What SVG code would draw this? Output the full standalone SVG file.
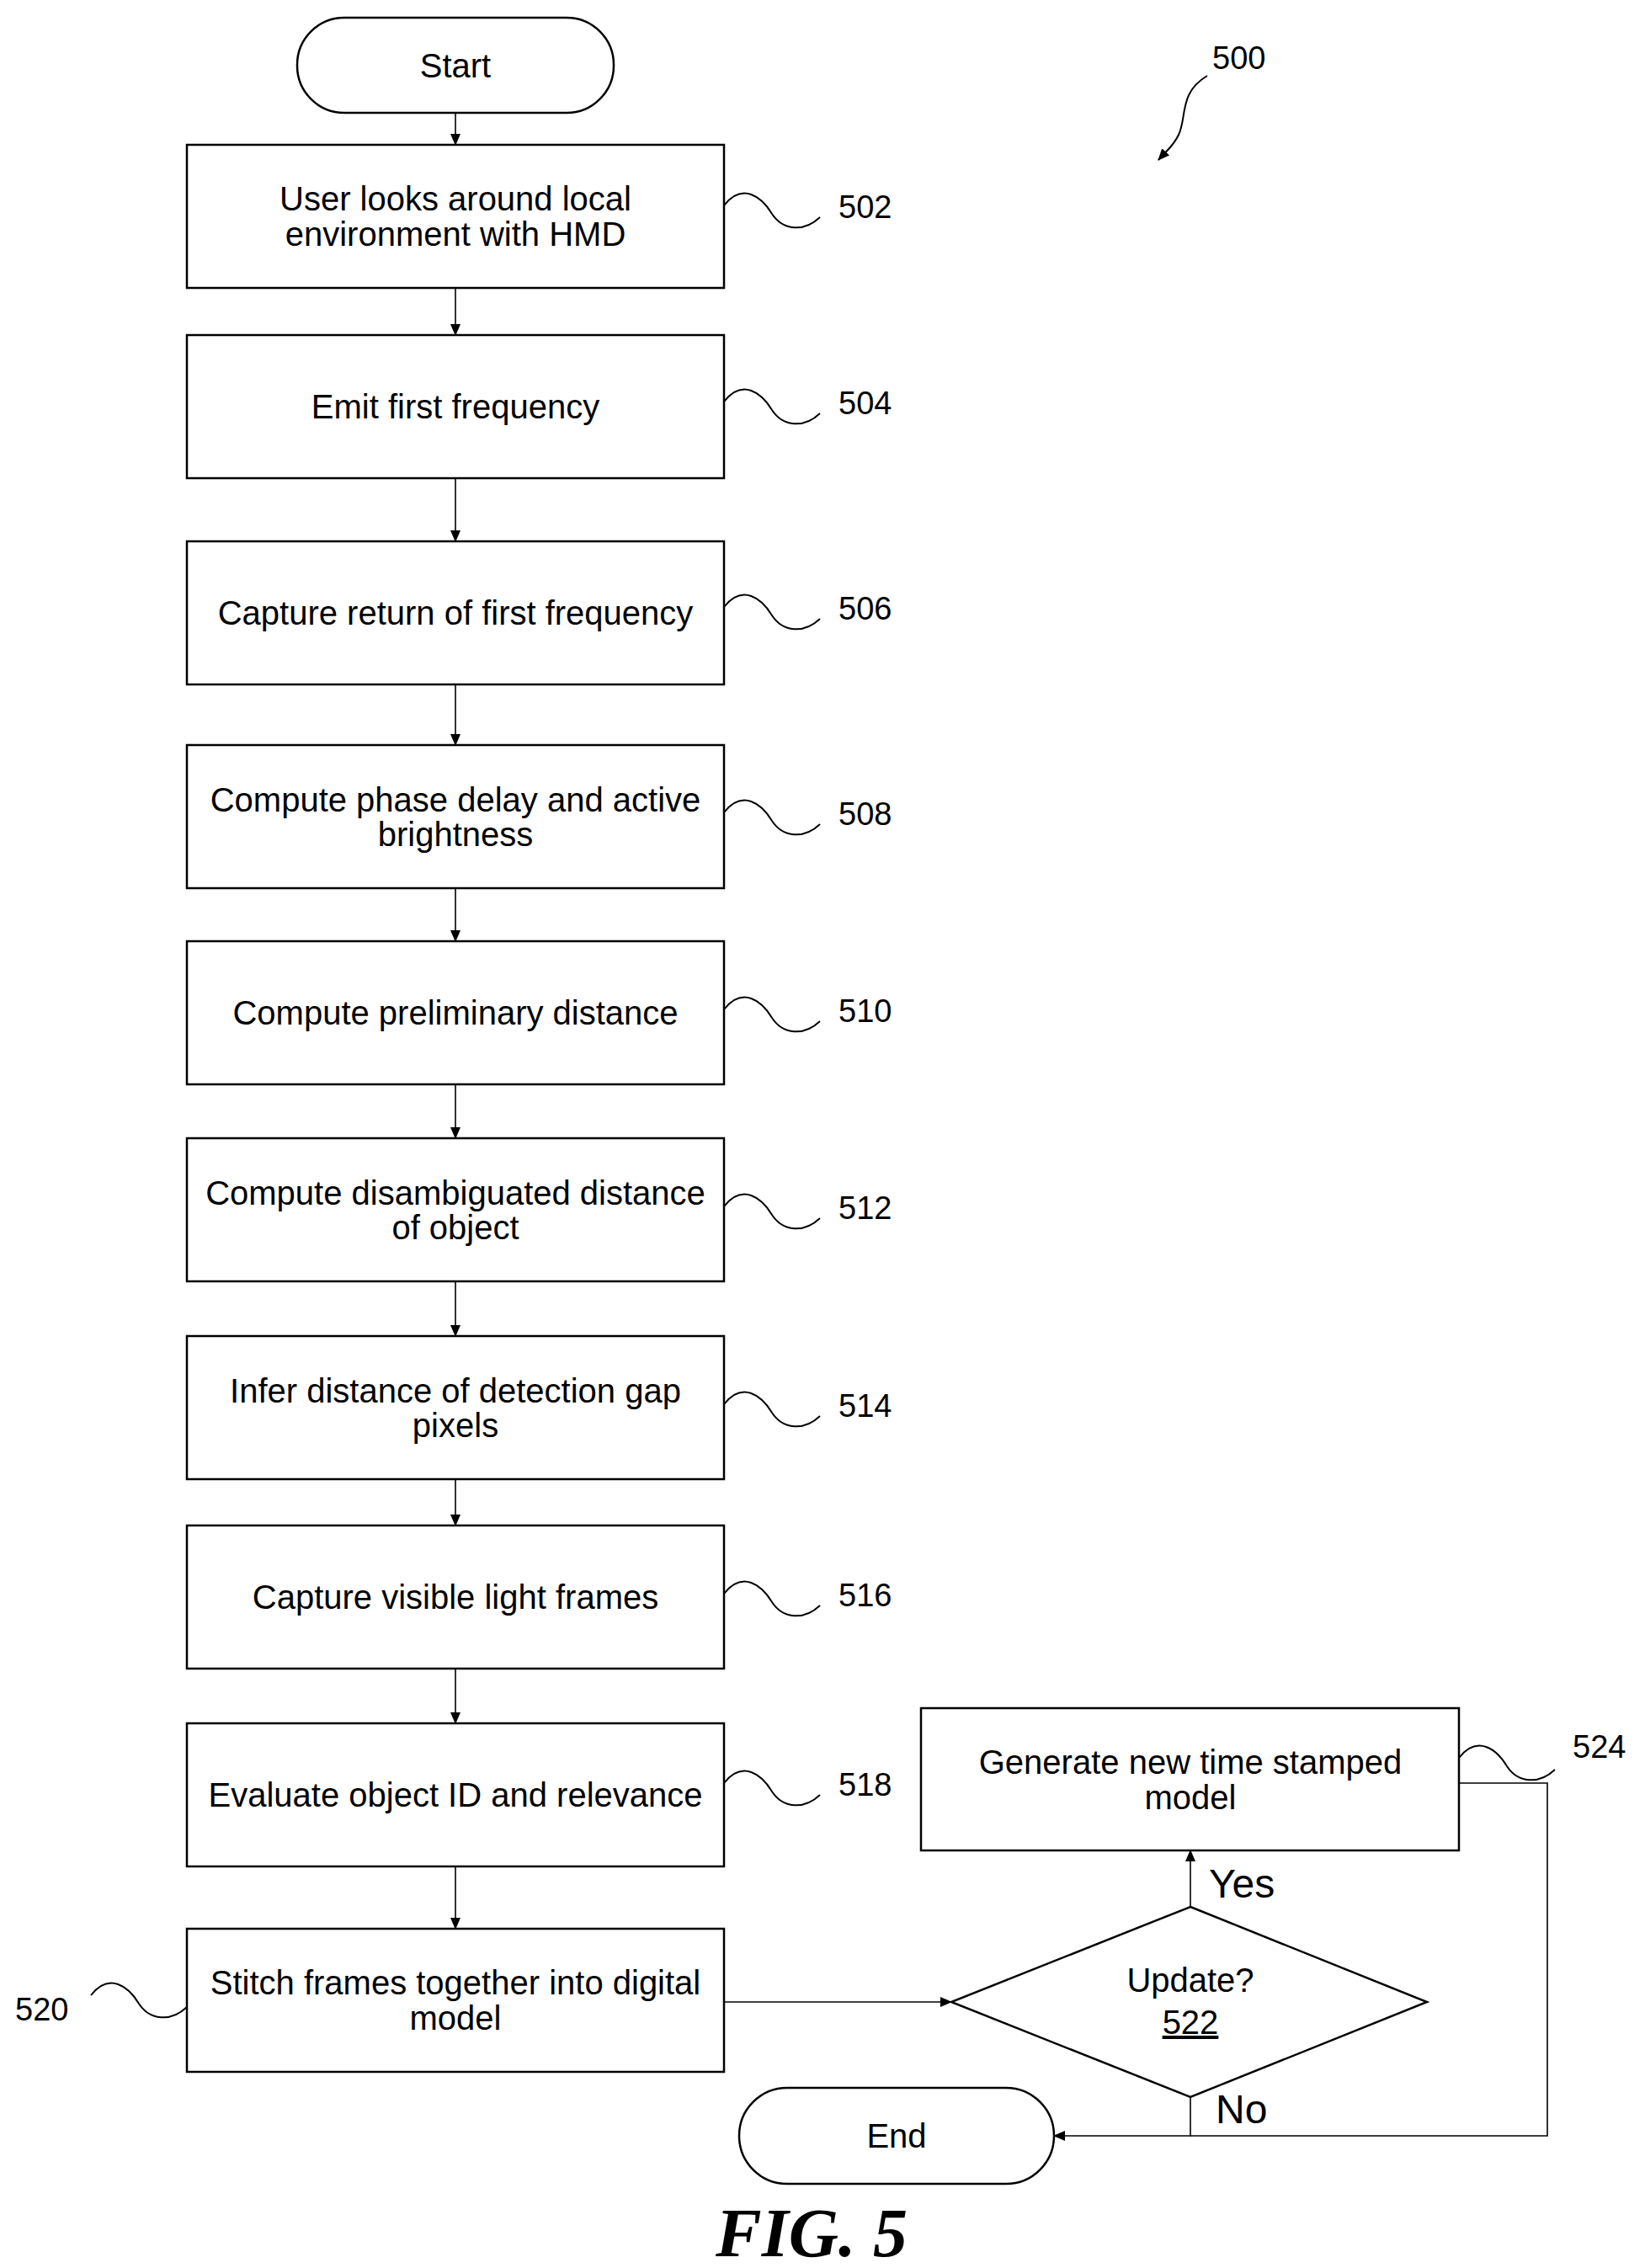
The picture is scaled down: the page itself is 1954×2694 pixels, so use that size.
<svg xmlns="http://www.w3.org/2000/svg" width="1954" height="2694" viewBox="0 0 1954 2694">
<style>
.b{fill:#fff;stroke:#000;stroke-width:2.5}
.t{font-family:"Liberation Sans",Arial,sans-serif;font-size:40px;text-anchor:middle;fill:#000}
.n{font-family:"Liberation Sans",Arial,sans-serif;font-size:38px;fill:#000}
.y{font-family:"Liberation Sans",Arial,sans-serif;font-size:48px;fill:#000}
.c{fill:none;stroke:#000;stroke-width:1.6}
.s{fill:none;stroke:#000;stroke-width:2}
</style>
<defs>
<marker id="a" markerWidth="14" markerHeight="14" refX="13" refY="7" orient="auto" markerUnits="userSpaceOnUse" viewBox="0 0 14 14">
<path d="M0,1 L14,7 L0,13 z" fill="#000"/>
</marker>
<path id="sq" d="M0,0 C22,-28 45,-10 57,10 C70,30 95,32 114,14"/>
</defs>
<rect width="1954" height="2694" fill="#fff"/>
<g id="connectors">
<path class="c" marker-end="url(#a)" d="M541,134 V172"/>
<path class="c" marker-end="url(#a)" d="M541,342 V398"/>
<path class="c" marker-end="url(#a)" d="M541,568 V643"/>
<path class="c" marker-end="url(#a)" d="M541,813 V885"/>
<path class="c" marker-end="url(#a)" d="M541,1055 V1118"/>
<path class="c" marker-end="url(#a)" d="M541,1288 V1352"/>
<path class="c" marker-end="url(#a)" d="M541,1522 V1587"/>
<path class="c" marker-end="url(#a)" d="M541,1757 V1812"/>
<path class="c" marker-end="url(#a)" d="M541,1982 V2047"/>
<path class="c" marker-end="url(#a)" d="M541,2217 V2291"/>
<path class="c" marker-end="url(#a)" d="M860,2378 H1130"/>
<path class="c" marker-end="url(#a)" d="M1414,2265 V2198"/>
<path class="c" marker-end="url(#a)" d="M1414,2491 V2537 H1252"/>
<path class="c" d="M1733,2118 H1838 V2537 H1414"/>
<path class="s" marker-end="url(#a)" d="M1434,90 C1400,110 1410,140 1400,160 C1395,172 1385,180 1376,190"/>
<text class="n" x="1440" y="82">500</text>
<text class="y" x="1436" y="2254">Yes</text>
<text class="y" x="1444" y="2522">No</text>
</g>
<g id="start"><rect class="b" x="353" y="21" width="376" height="113" rx="56"/><text class="t" x="541" y="92">Start</text></g>
<g id="n502"><rect class="b" x="222" y="172" width="638" height="170"/><text class="t" x="541" y="250">User looks around local</text><text class="t" x="541" y="292">environment with HMD</text><use href="#sq" class="s" x="860" y="244"/><text class="n" x="996" y="259">502</text></g>
<g id="n504"><rect class="b" x="222" y="398" width="638" height="170"/><text class="t" x="541" y="497">Emit first frequency</text><use href="#sq" class="s" x="860" y="477"/><text class="n" x="996" y="492">504</text></g>
<g id="n506"><rect class="b" x="222" y="643" width="638" height="170"/><text class="t" x="541" y="742">Capture return of first frequency</text><use href="#sq" class="s" x="860" y="721"/><text class="n" x="996" y="736">506</text></g>
<g id="n508"><rect class="b" x="222" y="885" width="638" height="170"/><text class="t" x="541" y="964">Compute phase delay and active</text><text class="t" x="541" y="1005">brightness</text><use href="#sq" class="s" x="860" y="965"/><text class="n" x="996" y="980">508</text></g>
<g id="n510"><rect class="b" x="222" y="1118" width="638" height="170"/><text class="t" x="541" y="1217">Compute preliminary distance</text><use href="#sq" class="s" x="860" y="1199"/><text class="n" x="996" y="1214">510</text></g>
<g id="n512"><rect class="b" x="222" y="1352" width="638" height="170"/><text class="t" x="541" y="1431">Compute disambiguated distance</text><text class="t" x="541" y="1472">of object</text><use href="#sq" class="s" x="860" y="1433"/><text class="n" x="996" y="1448">512</text></g>
<g id="n514"><rect class="b" x="222" y="1587" width="638" height="170"/><text class="t" x="541" y="1666">Infer distance of detection gap</text><text class="t" x="541" y="1707">pixels</text><use href="#sq" class="s" x="860" y="1668"/><text class="n" x="996" y="1683">514</text></g>
<g id="n516"><rect class="b" x="222" y="1812" width="638" height="170"/><text class="t" x="541" y="1911">Capture visible light frames</text><use href="#sq" class="s" x="860" y="1893"/><text class="n" x="996" y="1908">516</text></g>
<g id="n518"><rect class="b" x="222" y="2047" width="638" height="170"/><text class="t" x="541" y="2146">Evaluate object ID and relevance</text><use href="#sq" class="s" x="860" y="2118"/><text class="n" x="996" y="2133">518</text></g>
<g id="n520"><rect class="b" x="222" y="2291" width="638" height="170"/><text class="t" x="541" y="2369">Stitch frames together into digital</text><text class="t" x="541" y="2411">model</text><use href="#sq" class="s" x="108" y="2370"/><text class="n" x="18" y="2400">520</text></g>
<g id="n522"><path class="b" d="M1414,2265 L1695,2378 L1414,2491 L1130,2378 Z" stroke-width="1.6"/><text class="t" x="1414" y="2366">Update?</text><text class="t" x="1414" y="2416" text-decoration="underline">522</text></g>
<g id="n524"><rect class="b" x="1094" y="2029" width="639" height="169"/><text class="t" x="1414" y="2107">Generate new time stamped</text><text class="t" x="1414" y="2149">model</text><use href="#sq" class="s" x="1733" y="2088"/><text class="n" x="1868" y="2088">524</text></g>
<g id="end"><rect class="b" x="878" y="2480" width="374" height="114" rx="57"/><text class="t" x="1065" y="2551">End</text></g>
<text x="964" y="2680" font-family="Liberation Serif,serif" font-size="82" font-style="italic" font-weight="bold" text-anchor="middle">FIG. 5</text>
</svg>
